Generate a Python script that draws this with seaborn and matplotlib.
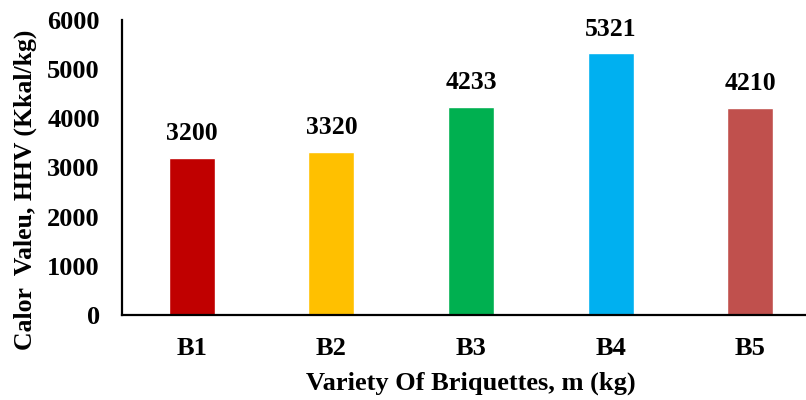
import matplotlib
matplotlib.use("Agg")
import matplotlib.pyplot as plt
import pandas as pd
import seaborn as sns

varieties = ["B1", "B2", "B3", "B4", "B5"]
hhv = [3200, 3320, 4233, 5321, 4210]
colors = ["#C00000", "#FFC000", "#00B050", "#00B0F0", "#C0504D"]

sns.set_style("white")
plt.rcParams["font.family"] = ["Liberation Serif", "DejaVu Serif"]
plt.rcParams["font.weight"] = "bold"
plt.rcParams["text.color"] = "black"
plt.rcParams["axes.labelcolor"] = "black"
plt.rcParams["xtick.color"] = "black"
plt.rcParams["ytick.color"] = "black"

df = pd.DataFrame({"variety": varieties, "hhv": hhv})

fig = plt.figure(figsize=(8.06, 4.0), dpi=100)
ax = fig.add_axes([122 / 806, 85 / 400, 684 / 806, 295 / 400])
sns.barplot(df, x="variety", y="hhv", hue="variety", palette=colors,
            width=0.33, legend=False, saturation=1, ax=ax)

for p, v in zip(ax.patches, hhv):
    ax.text(p.get_x() + p.get_width() / 2, v + 260, f"{v}", ha="center", va="bottom",
            fontsize=18.5, fontweight="bold")

ax.set_ylim(0, 6000)
ax.set_yticks(range(0, 6001, 1000))
ax.set_xlim(-0.5, 4.4)
ax.tick_params(axis="y", length=0, labelsize=19, pad=16)
ax.tick_params(axis="x", length=0, labelsize=19, pad=16)
for t in ax.get_xticklabels() + ax.get_yticklabels():
    t.set_fontweight("bold")
ax.set_xlabel("Variety Of Briquettes, m (kg)", fontsize=19, fontweight="bold")
ax.xaxis.set_label_coords(0.51, -0.23)
ax.xaxis.label.set_va("center")
ax.set_ylabel("Calor  Valeu, HHV (Kkal/kg)", fontsize=18.5, fontweight="bold")
ax.yaxis.set_label_coords(-0.124, 0.424)

for s in ("top", "right"):
    ax.spines[s].set_visible(False)
for s in ("left", "bottom"):
    ax.spines[s].set_color("black")
    ax.spines[s].set_linewidth(1.6)

fig.savefig("out.png", dpi=100)
